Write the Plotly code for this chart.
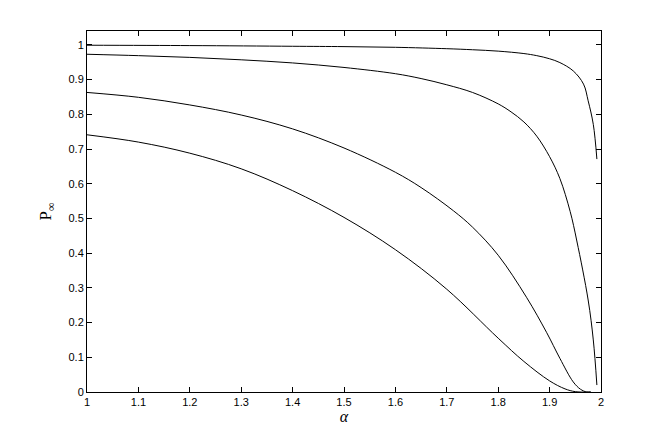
import plotly.graph_objects as go

alpha1 = [1.0, 1.2, 1.4, 1.5, 1.6, 1.7, 1.75, 1.8, 1.85, 1.875, 1.9, 1.92, 1.946, 1.966, 1.975, 1.985, 1.992]
P1 = [0.999, 0.998, 0.996, 0.995, 0.993, 0.989, 0.986, 0.982, 0.975, 0.969, 0.960, 0.949, 0.925, 0.887, 0.839, 0.771, 0.671]

alpha2 = [1.0, 1.1, 1.2, 1.3, 1.4, 1.5, 1.6, 1.65, 1.7, 1.75, 1.8, 1.825, 1.85, 1.875, 1.9, 1.92, 1.94, 1.953, 1.975, 1.985, 1.992]
P2 = [0.973, 0.969, 0.964, 0.957, 0.948, 0.935, 0.917, 0.903, 0.885, 0.863, 0.830, 0.807, 0.778, 0.737, 0.678, 0.615, 0.52, 0.435, 0.265, 0.150, 0.02]

alpha3 = [1.0, 1.1, 1.2, 1.3, 1.4, 1.5, 1.6, 1.65, 1.713, 1.75, 1.8, 1.855, 1.894, 1.92, 1.946, 1.96, 1.972, 1.98]
P3 = [0.863, 0.849, 0.827, 0.798, 0.758, 0.703, 0.633, 0.589, 0.522, 0.475, 0.394, 0.273, 0.172, 0.097, 0.029, 0.008, 0.0, 0.0]

alpha4 = [1.0, 1.1, 1.2, 1.3, 1.4, 1.5, 1.6, 1.7, 1.8, 1.85, 1.9, 1.93, 1.95, 1.98]
P4 = [0.741, 0.720, 0.688, 0.643, 0.58, 0.503, 0.41, 0.296, 0.155, 0.088, 0.032, 0.009, 0.001, 0.0]

x_ticks = [1, 1.1, 1.2, 1.3, 1.4, 1.5, 1.6, 1.7, 1.8, 1.9, 2]
x_tick_labels = ["1", "1.1", "1.2", "1.3", "1.4", "1.5", "1.6", "1.7", "1.8", "1.9", "2"]
y_ticks = [0, 0.1, 0.2, 0.3, 0.4, 0.5, 0.6, 0.7, 0.8, 0.9, 1]
y_tick_labels = ["0", "0.1", "0.2", "0.3", "0.4", "0.5", "0.6", "0.7", "0.8", "0.9", "1"]

fig = go.Figure()
for a, p in [(alpha1, P1), (alpha2, P2), (alpha3, P3), (alpha4, P4)]:
    fig.add_trace(go.Scatter(x=a, y=p, mode="lines",
                             line=dict(color="black", width=1, shape="spline", smoothing=1.0),
                             showlegend=False, hoverinfo="skip"))

axis_common = dict(showgrid=False, zeroline=False, showline=True, linecolor="black",
                   linewidth=1, mirror="ticks", ticks="inside", ticklen=5,
                   tickcolor="black", tickfont=dict(family="Liberation Sans", size=11, color="black"))

fig.update_xaxes(range=[1, 2], tickvals=x_ticks, ticktext=x_tick_labels,
                 title=dict(text="<i>α</i>", font=dict(family="Liberation Serif", size=16, color="black"), standoff=0),
                 **axis_common)
fig.update_yaxes(range=[0, 1.04], tickvals=y_ticks, ticktext=y_tick_labels,
                 title=dict(text="P<sub>∞</sub>", font=dict(family="Liberation Serif", size=17, color="black"), standoff=12),
                 **axis_common)

fig.update_layout(width=664, height=446, margin=dict(l=87, r=63, t=31, b=54),
                  paper_bgcolor="white", plot_bgcolor="white")

fig.write_html("out.html", config={"displayModeBar": False},
               post_script="document.body.style.margin='0';")
